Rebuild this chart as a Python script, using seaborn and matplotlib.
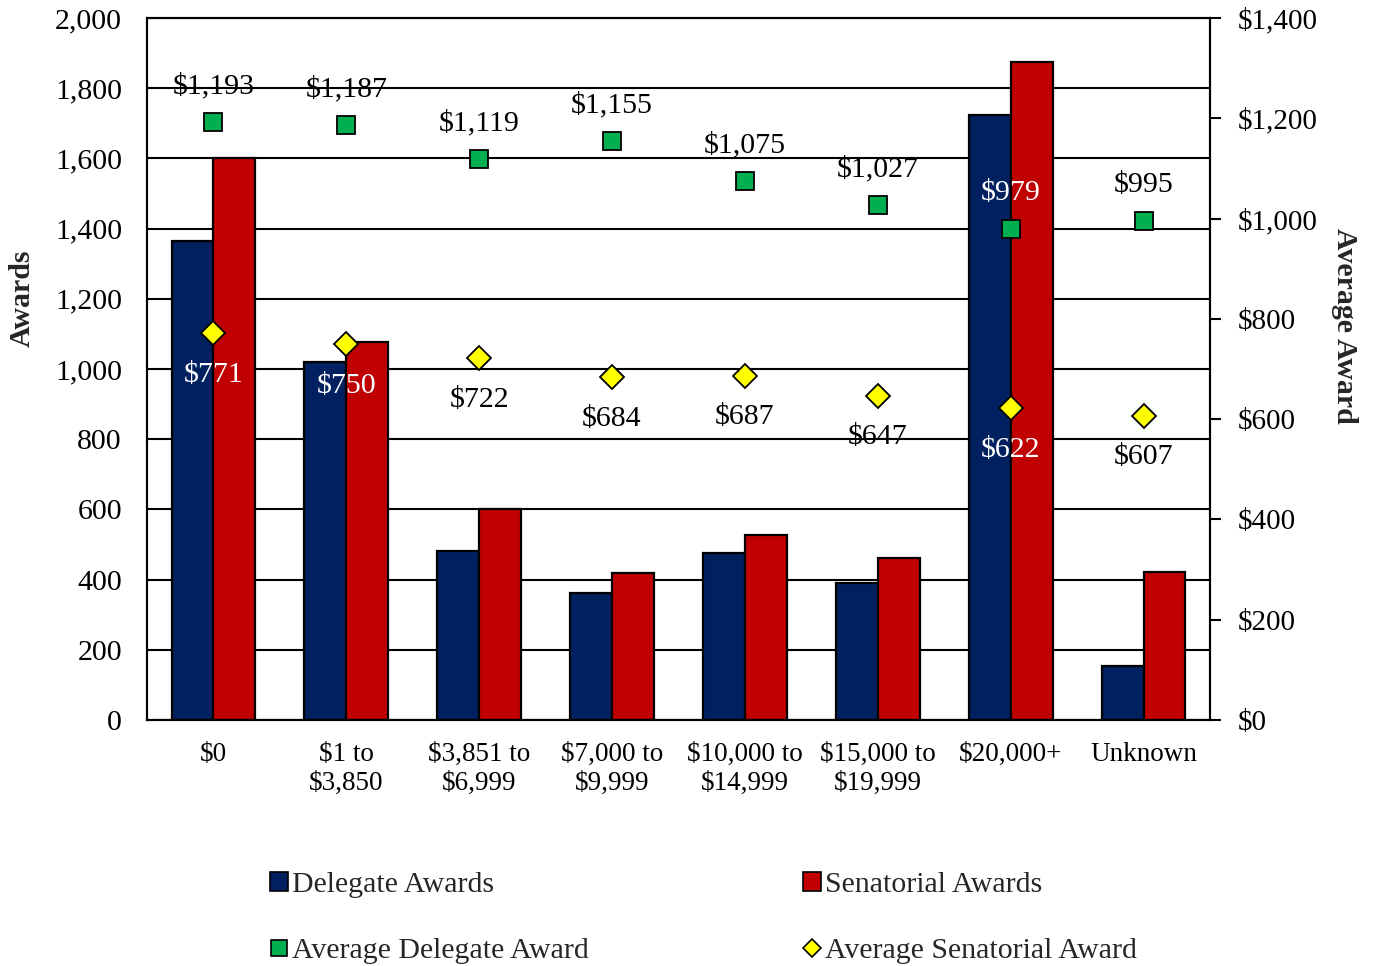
import matplotlib
matplotlib.use("Agg")
import matplotlib.pyplot as plt
import seaborn as sns
import pandas as pd
from matplotlib.patches import Patch
from matplotlib.lines import Line2D
from matplotlib.ticker import FuncFormatter, MultipleLocator

categories = ["$0", "$1 to\n$3,850", "$3,851 to\n$6,999", "$7,000 to\n$9,999",
              "$10,000 to\n$14,999", "$15,000 to\n$19,999", "$20,000+", "Unknown"]
delegate_awards = [1365, 1020, 481, 362, 476, 390, 1724, 154]
senatorial_awards = [1601, 1077, 601, 419, 527, 462, 1875, 422]
avg_delegate = [1193, 1187, 1119, 1155, 1075, 1027, 979, 995]
avg_senatorial = [771, 750, 722, 684, 687, 647, 622, 607]
# label colours (white where the label sits over a bar)
deleg_label_white = [False, False, False, False, False, False, True, False]
senat_label_white = [True, True, False, False, False, False, True, False]

NAVY = "#002060"
RED = "#C00000"
GREEN = "#00B050"
YELLOW = "#FFFF00"

sns.set_theme(style="white")
plt.rcParams["font.family"] = ["Liberation Serif", "DejaVu Serif"]
plt.rcParams["text.parse_math"] = False
FS = 21.5
FS_X = 19.5

df = pd.DataFrame({
    "Category": categories * 2,
    "Series": ["Delegate Awards"] * 8 + ["Senatorial Awards"] * 8,
    "Awards": delegate_awards + senatorial_awards,
})

fig = plt.figure(figsize=(13.75, 9.66), dpi=100)
ax = fig.add_axes([147 / 1375, 1 - 720 / 966, (1210 - 147) / 1375, (720 - 18) / 966])

sns.barplot(data=df, x="Category", y="Awards", hue="Series",
            palette=[NAVY, RED], width=0.63, edgecolor="black", linewidth=1.6,
            saturation=1, legend=False, ax=ax, zorder=2)
ax.set_ylim(0, 2000)
ax.set_xlim(-0.5, 7.5)
ax.yaxis.set_major_locator(MultipleLocator(200))
ax.yaxis.set_major_formatter(FuncFormatter(lambda v, p: f"{v:,.0f}"))
ax.yaxis.grid(True, color="black", lw=1.5)
ax.xaxis.grid(False)
ax.set_axisbelow(True)
ax.tick_params(axis="y", length=0, pad=18, labelsize=FS, colors="black")
ax.tick_params(axis="x", length=0, pad=16, labelsize=FS_X, colors="black")
for lab in ax.get_xticklabels():
    lab.set_linespacing(1.22)
ax.set_xlabel("")
ax.set_ylabel("Awards", fontsize=FS, fontweight="bold", va="center")
ax.yaxis.set_label_coords(-(147 - 22) / 1063, (720 - 298) / 702)
for s in ax.spines.values():
    s.set_color("black")
    s.set_linewidth(1.5)

ax2 = ax.twinx()
sns.pointplot(x=categories, y=avg_delegate, ax=ax2, color=GREEN, marker="s",
              linestyle="none", errorbar=None, markersize=13,
              markeredgecolor="black", markeredgewidth=1.3)
sns.pointplot(x=categories, y=avg_senatorial, ax=ax2, color=YELLOW, marker="D",
              linestyle="none", errorbar=None, markersize=12,
              markeredgecolor="black", markeredgewidth=1.3)
ax2.set_ylim(0, 1400)
ax2.set_xlim(-0.5, 7.5)
ax2.yaxis.set_major_locator(MultipleLocator(200))
ax2.yaxis.set_major_formatter(FuncFormatter(lambda v, p: f"${v:,.0f}"))
ax2.tick_params(axis="y", length=8, width=1.5, direction="out", pad=12,
                labelsize=21, colors="black")
ax2.set_ylabel("Average Award", fontsize=FS, fontweight="bold", rotation=-90,
               va="center")
ax2.yaxis.set_label_coords(1 + (1345 - 1210) / 1063, (720 - 326) / 702)
ax2.grid(False)
for s in ax2.spines.values():
    s.set_color("black")
    s.set_linewidth(1.5)

for i, (d, s) in enumerate(zip(avg_delegate, avg_senatorial)):
    ax2.annotate(f"${d:,}", (i, d), xytext=(0, 26), textcoords="offset points",
                 ha="center", va="center", fontsize=FS,
                 color="white" if deleg_label_white[i] else "black")
    ax2.annotate(f"${s:,}", (i, s), xytext=(0, -30), textcoords="offset points",
                 ha="center", va="center", fontsize=FS,
                 color="white" if senat_label_white[i] else "black")

handles = [
    Patch(facecolor=NAVY, edgecolor="black", linewidth=1.2),
    Line2D([], [], linestyle="none", marker="s", markersize=11,
           markerfacecolor=GREEN, markeredgecolor="black", markeredgewidth=1.2),
    Patch(facecolor=RED, edgecolor="black", linewidth=1.2),
    Line2D([], [], linestyle="none", marker="D", markersize=9,
           markerfacecolor=YELLOW, markeredgecolor="black", markeredgewidth=1.2),
]
labels = ["Delegate Awards", "Average Delegate Award",
          "Senatorial Awards", "Average Senatorial Award"]
fig.legend(handles, labels, loc="upper left", bbox_to_anchor=(270 / 1375, 1 - 872 / 966),
           ncol=2, frameon=False, fontsize=FS, handlelength=0.6, handleheight=0.6,
           handletextpad=0.15, labelspacing=1.35, columnspacing=7.15, borderpad=0,
           borderaxespad=0)

fig.savefig("out.png", dpi=100)
